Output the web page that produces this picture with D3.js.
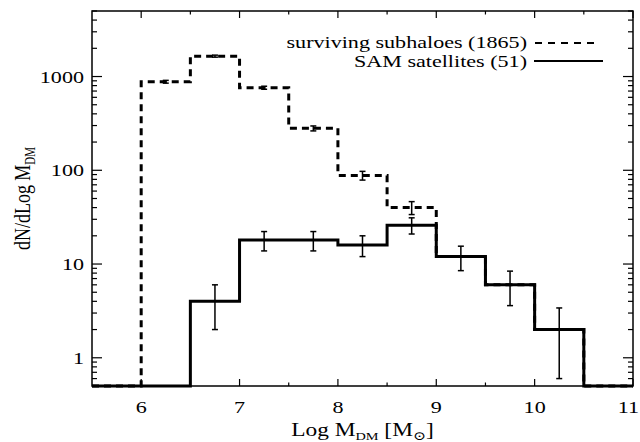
<!DOCTYPE html>
<html><head><meta charset="utf-8">
<script src="https://cdn.jsdelivr.net/npm/d3@7"></script>
<style>body{margin:0;background:#fff}svg{display:block}text{font-family:"Liberation Serif","DejaVu Serif",serif;fill:#000}</style>
</head><body><svg id="c" width="640" height="442"></svg>
<script>
// bins: edges from 5.5 to 11 in steps of 0.5
const binEdges = [5.5,6,6.5,7,7.5,8,8.5,9,9.5,10,10.5,11];
const subhaloValues = [0,880,1650,760,280,88,40,12,6,2,0];
const subhaloErr    = [0,30,41,28,17,9.4,6.3,0,0,0,0];
const satelliteValues = [0,0,4,18,18,16,26,12,6,2,0];
const satelliteErr    = [0,0,2,4.2,4.2,4,5.1,3.5,2.4,1.4,0];
const xTicks = [6,7,8,9,10,11];
const yTicks = [1,10,100,1000];
const legendLabels = ["surviving subhaloes (1865)","SAM satellites (51)"];

const SX = 1.3; // horizontal stretch of the glyphs in the reference
const svg = d3.select("#c");
const L=92, R=633, T=11, B=386;
const yMin=0.5, yMax=5000;
const x = d3.scaleLinear().domain([5.5,11]).range([L,R]);
const y = d3.scaleLog().domain([yMin,yMax]).range([B,T]);

function stepPoints(vals){
  const pts=[];
  vals.forEach((v,i)=>{const vv=Math.max(v,yMin);pts.push([binEdges[i],vv]);pts.push([binEdges[i+1],vv]);});
  return pts;
}
const line = d3.line().x(d=>x(d[0])).y(d=>y(d[1]));

svg.append("path").attr("d",line(stepPoints(subhaloValues))).attr("fill","none")
  .attr("stroke","#000").attr("stroke-width",3).attr("stroke-dasharray","7,5");
svg.append("path").attr("d",line(stepPoints(satelliteValues))).attr("fill","none")
  .attr("stroke","#000").attr("stroke-width",3).attr("stroke-linejoin","miter");

function errBars(vals,errs){
  const g=svg.append("g").attr("stroke","#000").attr("stroke-width",1.5);
  vals.forEach((v,i)=>{
    if(!(errs[i]>0))return;
    const cx=x((binEdges[i]+binEdges[i+1])/2);
    const lo=y(Math.max(v-errs[i],yMin)), hi=y(v+errs[i]);
    g.append("line").attr("x1",cx).attr("x2",cx).attr("y1",lo).attr("y2",hi);
    g.append("line").attr("x1",cx-3).attr("x2",cx+3).attr("y1",lo).attr("y2",lo);
    g.append("line").attr("x1",cx-3).attr("x2",cx+3).attr("y1",hi).attr("y2",hi);
  });
}
errBars(subhaloValues,subhaloErr);
errBars(satelliteValues,satelliteErr);

svg.append("rect").attr("x",L).attr("y",T).attr("width",R-L).attr("height",B-T)
  .attr("fill","none").attr("stroke","#000").attr("stroke-width",1.5);

const xMinor = d3.range(6.5,11,1);
const tg = svg.append("g").attr("stroke","#000").attr("stroke-width",1.2);
xTicks.forEach(t=>{
  tg.append("line").attr("x1",x(t)).attr("x2",x(t)).attr("y1",B).attr("y2",B-7);
  tg.append("line").attr("x1",x(t)).attr("x2",x(t)).attr("y1",T).attr("y2",T+7);
});
xMinor.forEach(t=>{
  tg.append("line").attr("x1",x(t)).attr("x2",x(t)).attr("y1",B).attr("y2",B-3.5);
  tg.append("line").attr("x1",x(t)).attr("x2",x(t)).attr("y1",T).attr("y2",T+3.5);
});
const yMinor=[];
[0.1,1,10,100,1000].forEach(d=>{for(let k=2;k<=9;k++){const v=d*k;if(v>=yMin&&v<=yMax)yMinor.push(v);}});
yTicks.forEach(t=>{
  tg.append("line").attr("x1",L).attr("x2",L+10).attr("y1",y(t)).attr("y2",y(t));
  tg.append("line").attr("x1",R).attr("x2",R-10).attr("y1",y(t)).attr("y2",y(t));
});
yMinor.forEach(t=>{
  tg.append("line").attr("x1",L).attr("x2",L+5).attr("y1",y(t)).attr("y2",y(t));
  tg.append("line").attr("x1",R).attr("x2",R-5).attr("y1",y(t)).attr("y2",y(t));
});

function stext(px,py,anchor,size){
  return svg.append("g").attr("transform",`translate(${px},${py}) scale(${SX},1)`)
    .append("text").attr("text-anchor",anchor).attr("font-size",size);
}
xTicks.forEach((t,i)=>{
  const last = i===xTicks.length-1;
  // keep the last label inside the page
  stext(last?Math.min(x(t)+11,639):x(t),413,last?"end":"middle",17).text(t);
});
yTicks.forEach(t=>{ stext(L-8,y(t)+6,"end",17).text(t); });

const xt = stext((L+R)/2,436,"middle",18);
xt.append("tspan").text("Log M");
xt.append("tspan").attr("font-size",11).attr("dy",4).text("DM");
xt.append("tspan").attr("dy",-4).text(" [M");
xt.append("tspan").attr("font-size",12).attr("dy",4).text("\u2299");
xt.append("tspan").attr("dy",-4).text("]");

const yt = svg.append("g").attr("transform",`translate(30,${(T+B)/2}) rotate(-90) scale(1,${SX})`)
  .append("text").attr("text-anchor","middle").attr("font-size",18);
yt.append("tspan").text("dN/dLog M");
yt.append("tspan").attr("font-size",11).attr("dy",4).text("DM");

stext(527,48,"end",17).text(legendLabels[0]);
stext(527,67,"end",17).text(legendLabels[1]);
svg.append("line").attr("x1",535).attr("x2",598).attr("y1",43).attr("y2",43).attr("stroke","#000")
  .attr("stroke-width",1.8).attr("stroke-dasharray","7,6");
svg.append("line").attr("x1",534).attr("x2",603).attr("y1",61).attr("y2",61).attr("stroke","#000").attr("stroke-width",1.8);
</script></body></html>
